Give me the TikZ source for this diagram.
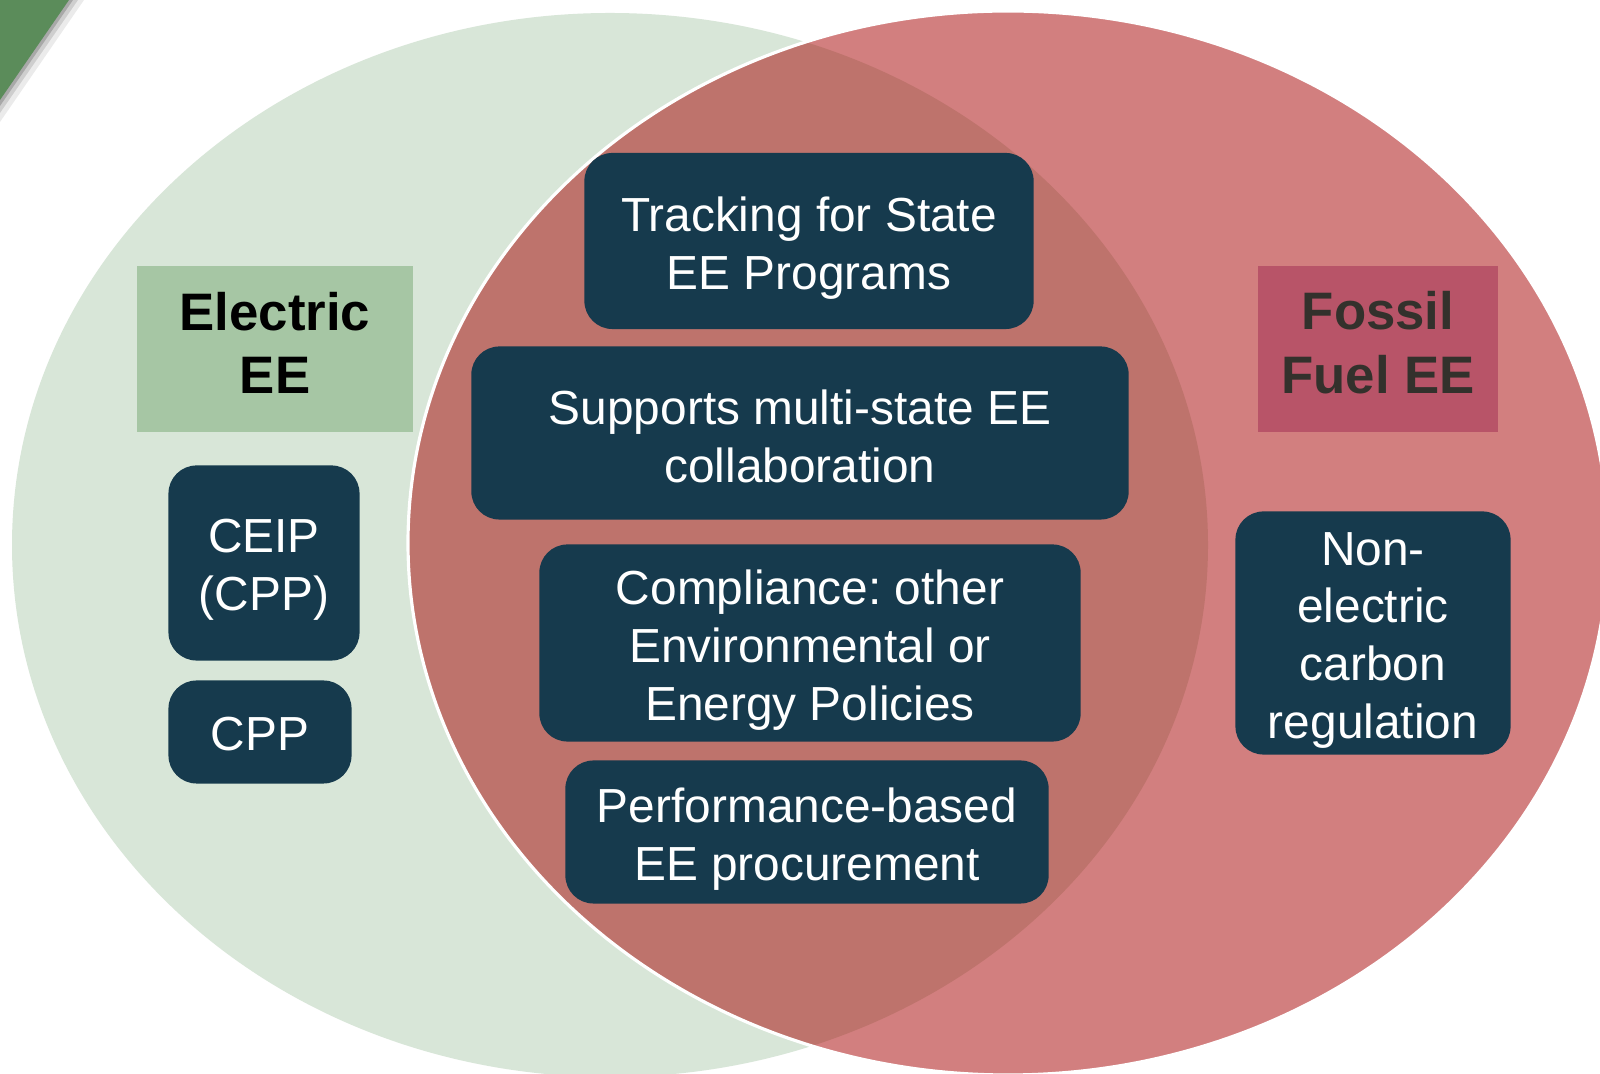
\documentclass[tikz,border=0pt]{standalone}
\usepackage{fontspec}
\setmainfont{Liberation Sans}
\frenchspacing
\definecolor{elecbg}{HTML}{D8E6D8}
\definecolor{elechead}{HTML}{A6C6A4}
\definecolor{fossbg}{HTML}{D27F7F}
\definecolor{fosshead}{HTML}{B85468}
\definecolor{overlap}{HTML}{BE736C}
\definecolor{navy}{HTML}{163A4D}
\definecolor{fosstext}{HTML}{33312C}
\definecolor{cornergreen}{HTML}{5B8C5A}
\begin{document}
\begin{tikzpicture}[x=0.01cm,y=-0.01cm,
    eebox/.style={fill=navy, rounded corners=8pt, inner sep=0pt},
    eetext/.style={text=white, align=center, inner sep=0pt, font=\fontsize{13.6}{16.4}\selectfont},
    eehead/.style={inner sep=0pt},
    headtext/.style={align=center, inner sep=0pt, font=\fontsize{15}{18}\selectfont\bfseries}]
    \clip (0,0) rectangle (1600,1074);
    \fill[white] (0,0) rectangle (1600,1074);
    % the two circles
    \fill[elecbg] (610,545) ellipse (598 and 532);
    \fill[fossbg] (1008,543) ellipse (600 and 532);
    \begin{scope}
        \clip (610,545) ellipse (598 and 532);
        \fill[overlap] (1008,543) ellipse (600 and 532);
    \end{scope}
    \draw[white, line width=0.9pt] (1008,543) ellipse (600 and 532);
    % corner
    \fill[black, opacity=0.08] (0,0) -- (84,0) -- (0,122) -- cycle;
    \fill[black, opacity=0.12] (0,0) -- (78,0) -- (0,113) -- cycle;
    \fill[black, opacity=0.18] (0,0) -- (73,0) -- (0,106) -- cycle;
    \fill[cornergreen] (0,0) -- (69,0) -- (0,100) -- cycle;
    % headings
    \node[eehead, fill=elechead, minimum width=2.76cm, minimum height=1.65cm] (elec) at (275,349) {};
    \node[headtext, text=black] (elec-t) at ([yshift=1.8pt]elec.center) {Electric\\EE};
    \node[eehead, fill=fosshead, minimum width=2.39cm, minimum height=1.65cm] (foss) at (1378,349) {};
    \node[headtext, text=fosstext] (foss-t) at ([yshift=1.8pt]foss.center) {Fossil\\Fuel EE};
    % boxes
    \node[eebox, minimum width=1.91cm, minimum height=1.95cm] (ceip) at (264,563) {};
    \node[eetext] (ceip-t) at ([yshift=-2pt]ceip.center) {CEIP\\(CPP)};
    \node[eebox, minimum width=1.83cm, minimum height=1.03cm] (cpp) at (260,732) {};
    \node[eetext] (cpp-t) at ([yshift=-0.6pt]cpp.center) {CPP};
    \node[eebox, minimum width=4.49cm, minimum height=1.76cm] (track) at (809,241) {};
    \node[eetext] (track-t) at ([yshift=-2pt]track.center) {Tracking for State\\EE Programs};
    \node[eebox, minimum width=6.57cm, minimum height=1.73cm] (supp) at (800,433) {};
    \node[eetext] (supp-t) at ([yshift=-1pt]supp.center) {Supports multi-state EE\\collaboration};
    \node[eebox, minimum width=5.41cm, minimum height=1.97cm] (comp) at (810,643) {};
    \node[eetext] (comp-t) at ([yshift=-2pt]comp.center) {Compliance: other\\Environmental or\\Energy Policies};
    \node[eebox, minimum width=4.83cm, minimum height=1.43cm] (perf) at (807,832) {};
    \node[eetext] (perf-t) at ([yshift=-2pt]perf.center) {Performance-based\\EE procurement};
    \node[eebox, minimum width=2.75cm, minimum height=2.43cm] (nonel) at (1373,633) {};
    \node[eetext] (nonel-t) at ([yshift=-2pt]nonel.center) {Non-\\electric\\carbon\\regulation};
\end{tikzpicture}
\end{document}
